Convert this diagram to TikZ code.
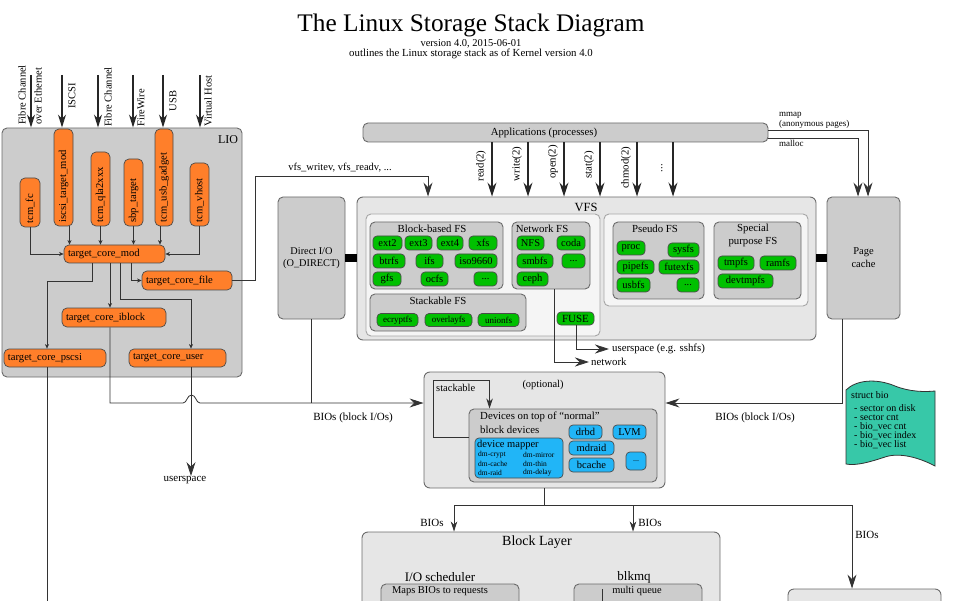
\documentclass[tikz,border=0pt]{standalone}
\usepackage{fontspec}
\setmainfont{Liberation Serif}
\usetikzlibrary{arrows.meta,calc}
\definecolor{cboxg}{HTML}{CCCCCC}
\definecolor{cboxl}{HTML}{E6E6E6}
\definecolor{cboxw}{HTML}{F5F5F5}
\definecolor{cbord}{HTML}{6B6B6B}
\definecolor{corange}{HTML}{FF7F2A}
\definecolor{cgreen}{HTML}{00C000}
\definecolor{cblue}{HTML}{21B5F7}
\definecolor{cteal}{HTML}{37C8A8}
\definecolor{cline}{HTML}{333333}
\newcommand\mytdots{...}
\newcommand\mybox[7]{%
  \pgfmathsetmacro\mybw{(#5)-(#3)}\pgfmathsetmacro\mybh{(#6)-(#4)}%
  \pgfmathsetmacro\mycx{((#3)+(#5))/2}\pgfmathsetmacro\mycy{((#4)+(#6))/2}%
  \node[#1, minimum width=\mybw pt, minimum height=\mybh pt] (#2) at (\mycx,\mycy) {#7};}
\newcommand\myboxl[7]{%
  \pgfmathsetmacro\mybw{(#5)-(#3)}\pgfmathsetmacro\mybh{(#6)-(#4)}%
  \pgfmathsetmacro\mytw{(#5)-(#3)-8}%
  \pgfmathsetmacro\mycx{((#3)+(#5))/2}\pgfmathsetmacro\mycy{((#4)+(#6))/2}%
  \node[#1, minimum height=\mybh pt, text width=\mytw pt, inner xsep=4pt, align=left] (#2) at (\mycx,\mycy) {#7};}
\newcommand\myvboxl[7]{%
  \pgfmathsetmacro\mybw{(#5)-(#3)}\pgfmathsetmacro\mybh{(#6)-(#4)}%
  \pgfmathsetmacro\mytw{(#6)-(#4)-7}%
  \pgfmathsetmacro\mycx{((#3)+(#5))/2}\pgfmathsetmacro\mycy{((#4)+(#6))/2}%
  \node[#1, rotate=90, minimum height=\mybw pt, text width=\mytw pt, inner xsep=3.5pt, align=left] (#2) at (\mycx,\mycy) {#7};}
\newcommand\pill[5]{\mybox{grn}{#1}{#2}{#4-7}{#3}{#4+7}{#5}}
\begin{document}
\begin{tikzpicture}[x=1pt,y=-1pt,
  base/.style={font=\fontsize{10.8}{12}\selectfont, inner sep=0pt},
  gbox/.style={base, draw=cbord, fill=cboxg, rounded corners=5pt, line width=0.9pt},
  lbox/.style={base, draw=cbord, fill=cboxl, rounded corners=6pt, line width=0.9pt},
  wbox/.style={base, draw=cbord!60, fill=cboxw, rounded corners=5pt, line width=0.9pt},
  orng/.style={base, font=\fontsize{10.6}{12}\selectfont, draw=cbord!70!black, fill=corange, rounded corners=5pt, line width=0.7pt},
  grn/.style={base, font=\fontsize{10.5}{11}\selectfont, draw=cbord!70!black, fill=cgreen, rounded corners=4pt, line width=0.7pt},
  blu/.style={base, draw=cbord!70!black, fill=cblue, rounded corners=4pt, line width=0.7pt},
  conn/.style={draw=cline, line width=0.8pt},
  blk/.style={draw=black!85, line width=1.3pt},
  bigtip/.style={-{Stealth[length=14pt,width=9pt,inset=4.5pt]}},
  midtip/.style={-{Stealth[length=10pt,width=6.5pt,inset=3pt]}},
  smtip/.style={-{Stealth[length=4.5pt,width=4pt,inset=1.2pt]}},
  toplbl/.style={base, font=\fontsize{10.5}{11}\selectfont, rotate=90},
]
\useasboundingbox (0,0) rectangle (960,601);
\clip (0,0) rectangle (960,601);

% ---------- title ----------
\node[base, font=\fontsize{25.3}{27}\selectfont] (title) at (471,25) {The Linux Storage Stack Diagram};
\node[base, font=\fontsize{10.5}{11}\selectfont] (ver) at (471,43.5) {version 4.0, 2015-06-01};
\node[base, font=\fontsize{10.8}{11}\selectfont] (outl) at (471,54) {outlines the Linux storage stack as of Kernel version 4.0};

% ---------- LIO ----------
\mybox{gbox}{lio}{2}{128}{242}{377}{}
\node[base, font=\fontsize{12}{12}\selectfont] (liol) at (228,140) {LIO};
\foreach \x/\n in {31/a1,62/a2,98/a3,133/a4,163/a5,200/a6}{
  \coordinate (\n) at (\x,75);
  \draw[blk, -{Stealth[length=13pt,width=8pt,inset=4pt]}] (\n) -- (\n |- lio.north);
}
\node[toplbl] (l1) at (22,95) {Fibre Channel};
\node[toplbl] (l2) at (38,96) {over Ethernet};
\node[toplbl] (l3) at (72,96) {ISCSI};
\node[toplbl] (l4) at (108,97) {Fibre Channel};
\node[toplbl] (l5) at (141,108) {FireWire};
\node[toplbl] (l6) at (173,101) {USB};
\node[toplbl] (l7) at (208,101) {Virtual Host};

\myvboxl{orng}{fc}{20}{178}{40}{227}{tcm\_fc}
\myvboxl{orng}{iscsi}{54}{129}{73}{226}{iscsi\_target\_mod}
\myvboxl{orng}{qla}{91}{152}{110}{226}{tcm\_qla2xxx}
\myvboxl{orng}{sbp}{124}{159}{143}{226}{sbp\_target}
\myvboxl{orng}{usbg}{155}{129}{173}{226}{tcm\_usb\_gadget}
\myvboxl{orng}{vhost}{190}{163}{209}{226}{tcm\_vhost}

\myboxl{orng}{mod}{64}{245}{165}{263}{target\_core\_mod}
\myboxl{orng}{file}{142}{271}{232}{290}{target\_core\_file}
\myboxl{orng}{iblock}{62}{308}{166}{327}{target\_core\_iblock}
\myboxl{orng}{pscsi}{4}{349}{106}{367}{target\_core\_pscsi}
\myboxl{orng}{user}{129}{349}{226}{367}{target\_core\_user}

\draw[conn, smtip] (fc.west) |- (mod.west);
\coordinate (c1) at ($(iscsi.west)+(6,0)$);
\draw[conn, smtip] (c1) -- (c1 |- mod.north);
\draw[conn, smtip] (qla.west) -- (qla.west |- mod.north);
\draw[conn, smtip] (sbp.west) -- (sbp.west |- mod.north);
\coordinate (c2) at ($(usbg.west)+(-4,0)$);
\draw[conn, smtip] (c2) -- (c2 |- mod.north);
\draw[conn, smtip] (vhost.west) |- (mod.east);
\coordinate (m1) at ($(mod.south)+(16.5,0)$);
\draw[conn, smtip] (m1) |- (file.west);
\coordinate (m2) at ($(mod.south)+(-4.5,0)$);
\draw[conn, smtip] (m2) -- (m2 |- iblock.north);
\coordinate (m3) at ($(mod.south)+(-22.5,0)$);
\coordinate (p1) at ($(pscsi.north)+(-8,0)$);
\draw[conn, smtip] (m3) -- ++(0,18) -| (p1);
\coordinate (m4) at ($(mod.south)+(5.5,0)$);
\coordinate (u1) at ($(user.north)+(13.5,0)$);
\draw[conn, smtip] (m4) -- ++(0,36) -| (u1);
\coordinate (p2) at ($(pscsi.south)+(-8,0)$);
\draw[conn] (p2) -- ++(0,260);

% ---------- Applications ----------
\mybox{gbox}{app}{363}{123}{768}{142}{}
\node[base] (appl) at (544,133) {Applications (processes)};

% ---------- VFS ----------
\mybox{lbox}{vfs}{357}{197}{816}{340}{}
\node[base, font=\fontsize{12.5}{13}\selectfont] (vfsl) at (586,207) {VFS};
\mybox{wbox}{vin1}{366}{214}{600}{336}{}
\mybox{wbox}{vin2}{604}{214}{808}{306}{}

\mybox{gbox}{bbfs}{370}{222}{503}{289}{}
\node[base] (bbfsl) at (432,229) {Block-based FS};
\pill{ext2}{373}{402}{243}{ext2}
\pill{ext3}{405}{432}{243}{ext3}
\pill{ext4}{437}{463}{243}{ext4}
\pill{xfs}{469}{497}{243}{xfs}
\pill{btrfs}{373}{405}{261}{btrfs}
\pill{ifs}{416}{443}{261}{ifs}
\pill{iso}{455}{497}{261}{iso9660}
\pill{gfs}{373}{401}{279}{gfs}
\pill{ocfs}{421}{448}{279}{ocfs}
\pill{bdots}{474}{497}{279}{...}

\mybox{gbox}{nfs}{512}{222}{590}{289}{}
\node[base] (nfsl) at (542,229) {Network FS};
\pill{nfsp}{517}{544}{243}{NFS}
\pill{coda}{557}{585}{243}{coda}
\pill{smbfs}{517}{553}{261}{smbfs}
\pill{ndots}{562}{585}{261}{...}
\pill{ceph}{517}{548}{279}{ceph}

\mybox{gbox}{stk}{370}{294}{526}{331}{}
\node[base] (stkl) at (438,301) {Stackable FS};
\mybox{grn, font=\fontsize{9}{9}\selectfont}{ecr}{377}{313.5}{418}{326.5}{ecryptfs}
\mybox{grn, font=\fontsize{9}{9}\selectfont}{ovl}{425}{313.5}{472}{326.5}{overlayfs}
\mybox{grn, font=\fontsize{9}{9}\selectfont}{uni}{478}{313.5}{519}{326.5}{unionfs}

\mybox{grn, font=\fontsize{11}{11}\selectfont}{fuse}{557}{312}{594}{325}{FUSE}

\mybox{gbox}{psfs}{613}{222}{704}{299}{}
\node[base] (psfsl) at (655,229) {Pseudo FS};
\pill{proc}{617}{645}{248}{proc}
\pill{sysfs}{668}{699}{250}{sysfs}
\pill{pipefs}{617}{654}{267}{pipefs}
\pill{futexfs}{659}{699}{267}{futexfs}
\pill{usbfs}{617}{650}{285}{usbfs}
\pill{pdots}{677}{699}{285}{...}

\mybox{gbox}{spfs}{714}{222}{801}{299}{}
\node[base, font=\fontsize{10.8}{13.5}\selectfont, align=center] (spfsl) at (753,235.5) {Special\\purpose FS};
\pill{tmpfs}{718}{754}{263}{tmpfs}
\pill{ramfs}{760}{796}{263}{ramfs}
\pill{devtmpfs}{718}{773}{281}{devtmpfs}

% syscalls
\foreach \x/\n/\t/\ly in {492/s1/read(2)/166,528/s2/write(2)/164,564/s3/open(2)/162,600/s4/stat(2)/165,637/s5/chmod(2)/168,673/s6/\mytdots/168}{
  \coordinate (\n) at (\x,0);
  \draw[blk, bigtip] (\n |- app.south) -- (\n |- vfs.north);
  \node[base, rotate=90] (\n l) at (\x-11,\ly) {\t};
}

% ---------- Direct I/O, page cache ----------
\mybox{gbox, align=center, font=\fontsize{10.3}{12.5}\selectfont}{dio}{278}{197}{345}{319}{Direct I/O\\(O\_DIRECT)}
\draw[line width=8pt] (dio.east) -- (dio.east -| vfs.west);
\mybox{gbox, align=center, font=\fontsize{10.5}{13}\selectfont}{pc}{827}{197}{900}{319}{Page\\cache}
\draw[line width=8pt] (pc.west) -- (pc.west -| vfs.east);

% vfs_writev
\coordinate (v1) at (428,176);
\draw[conn, bigtip] (file.east) -- ++(23,0) |- (v1) -- (v1 |- vfs.north);
\node[base, font=\fontsize{10.5}{11}\selectfont] (vfsw) at (340,168) {vfs\_writev, vfs\_readv, ...};

% mmap / malloc
\coordinate (mm) at ($(app.east)+(0,-2.5)$);
\coordinate (ml) at ($(app.east)+(0,5.5)$);
\coordinate (pm1) at ($(pc.north)+(4.5,0)$);
\coordinate (pm2) at ($(pc.north)+(-5.5,0)$);
\draw[conn, bigtip] (mm) -| (pm1);
\draw[conn, bigtip] (ml) -| (pm2);
\node[base, font=\fontsize{9}{9}\selectfont, anchor=west] (mmapl) at (779,115) {mmap};
\node[base, font=\fontsize{9}{9}\selectfont, anchor=west] (anonl) at (779,124.5) {(anonymous pages)};
\node[base, font=\fontsize{9}{9}\selectfont, anchor=west] (mallocl) at (779,143) {malloc};

% network / userspace from FS
\coordinate (ce) at (554,0);
\coordinate (nw) at (589,362);
\draw[conn, bigtip] (ce |- nfs.south) |- (nw);
\node[base, anchor=west] (nwl) at (591,362) {network};
\coordinate (fu) at (576,0);
\coordinate (us) at (609,349);
\draw[conn, bigtip] (fu |- fuse.south) |- (us);
\node[base, anchor=west] (usl2) at (612,349) {userspace (e.g. sshfs)};

% ---------- optional ----------
\mybox{lbox}{opt}{424}{372}{665}{488}{}
\node[base, font=\fontsize{10.4}{11}\selectfont] (optl) at (543,385) {(optional)};
\mybox{gbox}{dev}{469}{409}{657}{482}{}
\node[base, anchor=west] (devl1) at (480,417) {Devices on top of “normal”};
\node[base, anchor=west] (devl2) at (480,430) {block devices};
\coordinate (s1) at ($(dev.north west)+(0,29)$);
\draw[conn, midtip] (s1) -- ++(-35,0) -- ++(0,-57) -- ++(56,0) -- ++(0,28);
\node[base, font=\fontsize{10.5}{11}\selectfont, anchor=west] (stkbl) at (436,388) {stackable};
\mybox{blu}{dm}{475}{438}{563}{478}{}
\node[base, font=\fontsize{10.5}{11}\selectfont, anchor=west] (dml) at (477,445) {device mapper};
\node[base, font=\fontsize{7.5}{8}\selectfont, anchor=west] (d1) at (478,454.5) {dm-crypt};
\node[base, font=\fontsize{7.5}{8}\selectfont, anchor=west] (d2) at (523,454.5) {dm-mirror};
\node[base, font=\fontsize{7.5}{8}\selectfont, anchor=west] (d3) at (478,464) {dm-cache};
\node[base, font=\fontsize{7.5}{8}\selectfont, anchor=west] (d4) at (523,464) {dm-thin};
\node[base, font=\fontsize{7.5}{8}\selectfont, anchor=west] (d5) at (478,473) {dm-raid};
\node[base, font=\fontsize{7.5}{8}\selectfont, anchor=west] (d6) at (523,473) {dm-delay};
\mybox{blu, font=\fontsize{10.5}{11}\selectfont}{drbd}{569}{425}{602}{439}{drbd}
\mybox{blu, font=\fontsize{10.5}{11}\selectfont}{lvm}{613}{425}{646}{439}{LVM}
\mybox{blu, font=\fontsize{10.5}{11}\selectfont}{mdraid}{569}{441}{614}{455}{mdraid}
\mybox{blu, font=\fontsize{10.5}{11}\selectfont}{bcache}{569}{458}{614}{472}{bcache}
\mybox{blu, font=\fontsize{8}{9}\selectfont}{odots}{626}{452}{646}{470}{...}

% BIOs into optional
\coordinate (ib) at ($(iblock.south)+(-4,0)$);
\coordinate (bj) at (110,403);
\draw[conn, bigtip] (ib) -- (bj) -- (183,403) .. controls (187,403) and (187,395) .. (191.5,395) .. controls (196,395) and (196,403) .. (200,403) -- (bj -| opt.west);
\draw[conn] (dio.south) -- (dio.south |- bj);
\node[base, font=\fontsize{11}{12}\selectfont] (bios1) at (353,418) {BIOs (block I/Os)};
\coordinate (pcb) at ($(pc.south)+(-21.5,0)$);
\draw[conn, bigtip] (pcb) |- (opt.east |- bj);
\node[base, font=\fontsize{11}{12}\selectfont] (bios2) at (755,418) {BIOs (block I/Os)};

% userspace from target_core_user
\node[base, font=\fontsize{11}{12}\selectfont] (usl) at (185,480) {userspace};
\coordinate (ub) at ($(user.south)+(13.5,0)$);
\draw[conn, bigtip] (ub) -- (ub |- usl.north);

% ---------- struct bio ----------
\draw[draw=cline, line width=0.8pt, fill=cteal] (846,390) .. controls (856,380) and (876,378) .. (895,386) .. controls (910,392) and (925,392) .. (935,391) -- (935,466) .. controls (920,458) and (900,452) .. (885,457) .. controls (870,462) and (856,466) .. (846,464) -- cycle;
\node[base, font=\fontsize{10}{10}\selectfont, anchor=west] (sbio) at (851,395) {struct bio};
\node[base, font=\fontsize{10}{9}\selectfont, anchor=north west, align=left] (sbiol) at (854,404) {- sector on disk\\- sector cnt\\- bio\_vec cnt\\- bio\_vec index\\- bio\_vec list};

% ---------- Block layer ----------
\mybox{lbox}{bl}{362}{532}{720}{680}{}
\node[base, font=\fontsize{14}{15}\selectfont] (bll) at (537,542) {Block Layer};
\node[base, font=\fontsize{13}{14}\selectfont] (iosl) at (440,577) {I/O scheduler};
\mybox{gbox}{sched}{381}{584}{519}{680}{}
\node[base, font=\fontsize{10.5}{11}\selectfont] (schedl) at (440,591) {Maps BIOs to requests};
\node[base, font=\fontsize{13}{14}\selectfont] (mql) at (634,577) {blkmq};
\mybox{gbox}{mq}{574}{584}{702}{680}{}
\draw[conn] (602,589) -- (602,620);
\node[base, font=\fontsize{10.4}{11}\selectfont] (mqt) at (637,591) {multi queue};
\mybox{lbox}{rb}{788}{589}{941}{680}{}

\coordinate (oj) at ($(opt.south)+(0,17)$);
\draw[conn] (opt.south) -- (oj);
\coordinate (t1) at ($(bl.north)+(-87,0)$);
\coordinate (t2) at ($(bl.north)+(92,0)$);
\coordinate (t3) at ($(rb.north)+(-12.5,0)$);
\draw[conn, midtip] (oj) -| (t1);
\draw[conn, midtip] (oj) -| (t2);
\draw[conn, bigtip] (oj) -| (t3);
\node[base, font=\fontsize{11}{12}\selectfont] (b1) at (432,523) {BIOs};
\node[base, font=\fontsize{11}{12}\selectfont] (b2) at (650,523) {BIOs};
\node[base, font=\fontsize{11}{12}\selectfont] (b3) at (867,535) {BIOs};
\end{tikzpicture}
\end{document}
